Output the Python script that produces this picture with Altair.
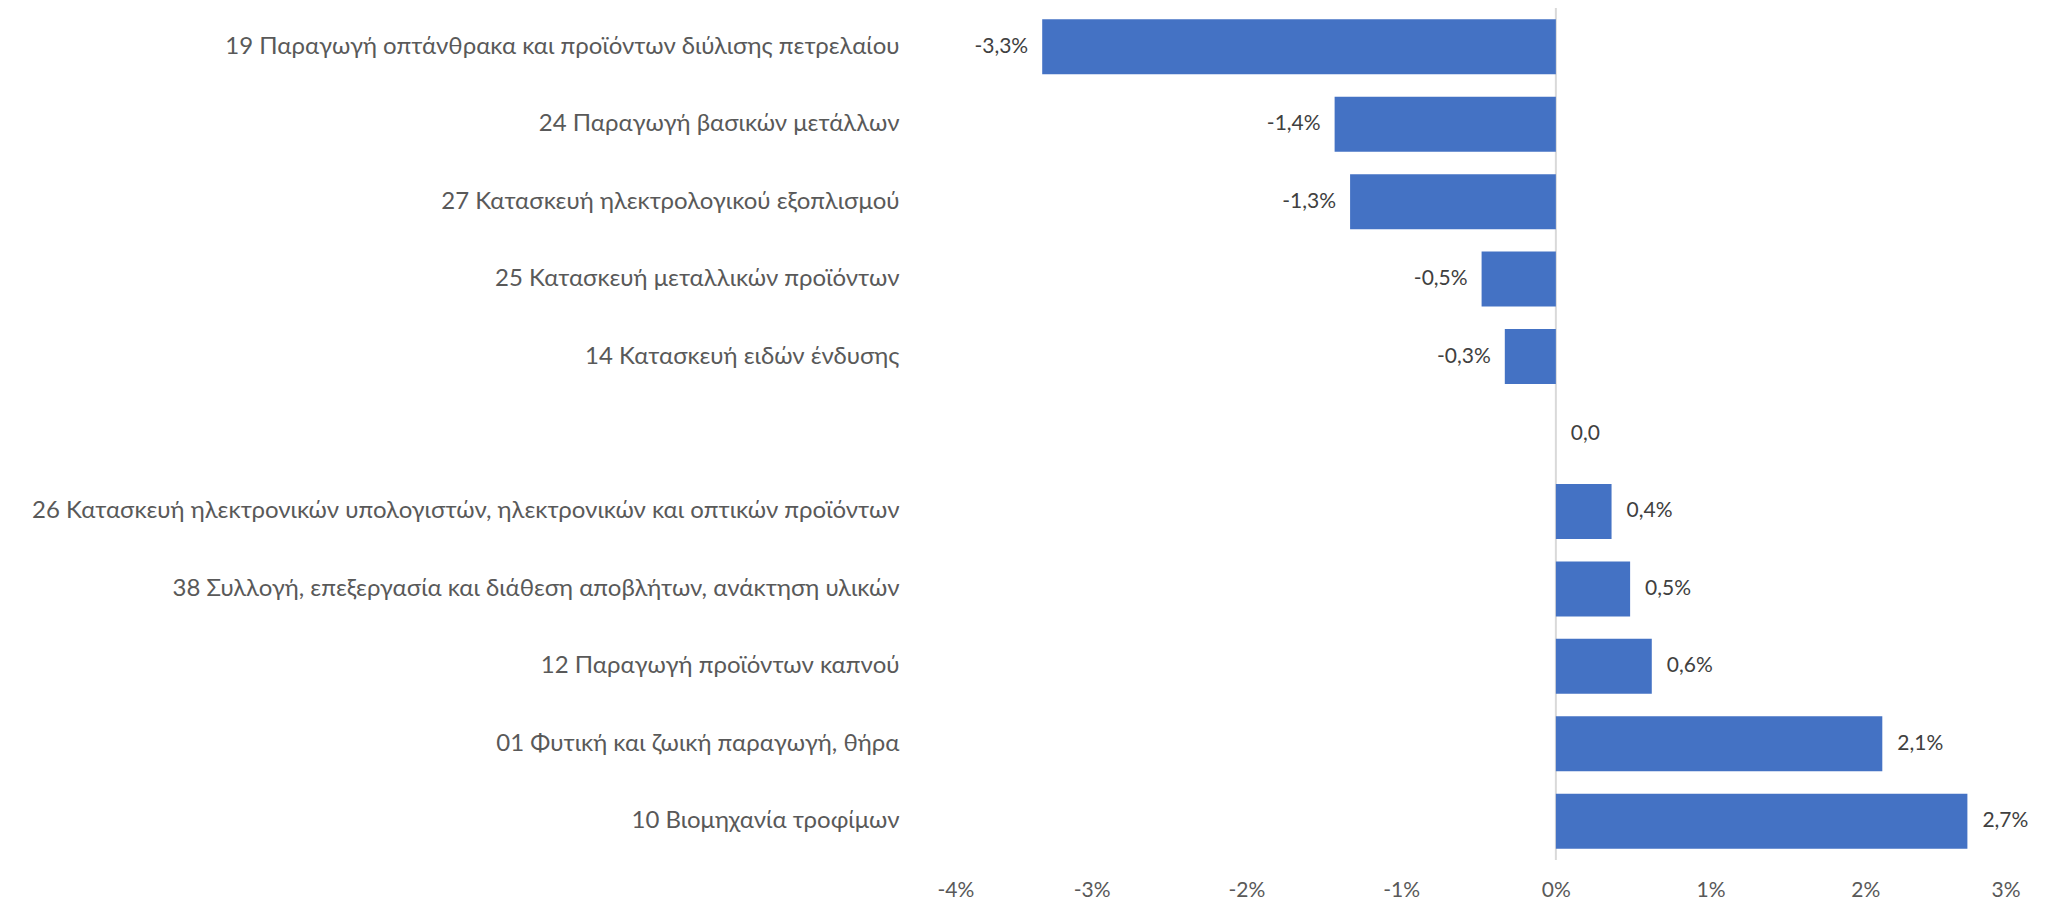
import altair as alt
import pandas as pd

categories = [
    "19 Παραγωγή οπτάνθρακα και προϊόντων διύλισης πετρελαίου",
    "24 Παραγωγή βασικών μετάλλων",
    "27 Κατασκευή ηλεκτρολογικού εξοπλισμού",
    "25 Κατασκευή μεταλλικών προϊόντων",
    "14 Κατασκευή ειδών ένδυσης",
    "",
    "26 Κατασκευή ηλεκτρονικών υπολογιστών, ηλεκτρονικών και οπτικών προϊόντων",
    "38 Συλλογή, επεξεργασία και διάθεση αποβλήτων, ανάκτηση υλικών",
    "12 Παραγωγή προϊόντων καπνού ",
    "01 Φυτική και ζωική παραγωγή, θήρα",
    "10 Βιομηχανία τροφίμων",
]
values = [-3.32, -1.43, -1.33, -0.48, -0.33, 0.0, 0.36, 0.48, 0.62, 2.11, 2.66]
value_labels = ["-3,3%", "-1,4%", "-1,3%", "-0,5%", "-0,3%", "0,0",
                "0,4%", "0,5%", "0,6%", "2,1%", "2,7%"]
tick_values = [-4, -3, -2, -1, 0, 1, 2, 3]

df = pd.DataFrame({"cat": categories, "val": values, "lab": value_labels})

FONT = "Lato"
FS = 21
CAT_FS = 24

x_scale = alt.Scale(domain=[-4, 3], nice=False, zero=False)
x_axis = alt.Axis(
    title=None, values=tick_values, labelExpr="datum.value + '%'",
    grid=False, domain=False, ticks=False, labelPadding=19,
    labelFont=FONT, labelFontSize=FS, labelColor="#595959",
)
y_scale = alt.Scale(paddingInner=0.29, paddingOuter=0.145)
y_axis = alt.Axis(
    title=None, domain=False, ticks=False, grid=False, labelPadding=38,
    labelLimit=2000, labelFont=FONT, labelFontSize=CAT_FS, labelColor="#595959",
)

base = alt.Chart(df)

zero_rule = alt.Chart(pd.DataFrame({"z": [0]})).mark_rule(
    color="#d9d9d9", strokeWidth=2
).encode(x=alt.X("z:Q", scale=x_scale, axis=x_axis))

bars = base.mark_bar(color="#4472C4").encode(
    x=alt.X("val:Q", scale=x_scale, axis=x_axis),
    y=alt.Y("cat:N", sort=categories, scale=y_scale, axis=y_axis),
)

neg_labels = base.transform_filter("datum.val < 0").mark_text(
    align="right", baseline="middle", dx=-14, font=FONT, fontSize=FS, color="#404040"
).encode(
    x=alt.X("val:Q", scale=x_scale),
    y=alt.Y("cat:N", sort=categories, scale=y_scale),
    text="lab:N",
)

pos_labels = base.transform_filter("datum.val >= 0").mark_text(
    align="left", baseline="middle", dx=15, font=FONT, fontSize=FS, color="#404040"
).encode(
    x=alt.X("val:Q", scale=x_scale),
    y=alt.Y("cat:N", sort=categories, scale=y_scale),
    text="lab:N",
)

chart = alt.layer(zero_rule, bars, neg_labels, pos_labels).properties(
    width=1083, height=852,
    autosize=alt.AutoSizeParams(type="none"),
    padding={"left": 929, "top": 0, "right": 20, "bottom": 40},
).configure_view(stroke=None)

chart.save("out.html", embed_options={"renderer": "svg", "actions": False})
